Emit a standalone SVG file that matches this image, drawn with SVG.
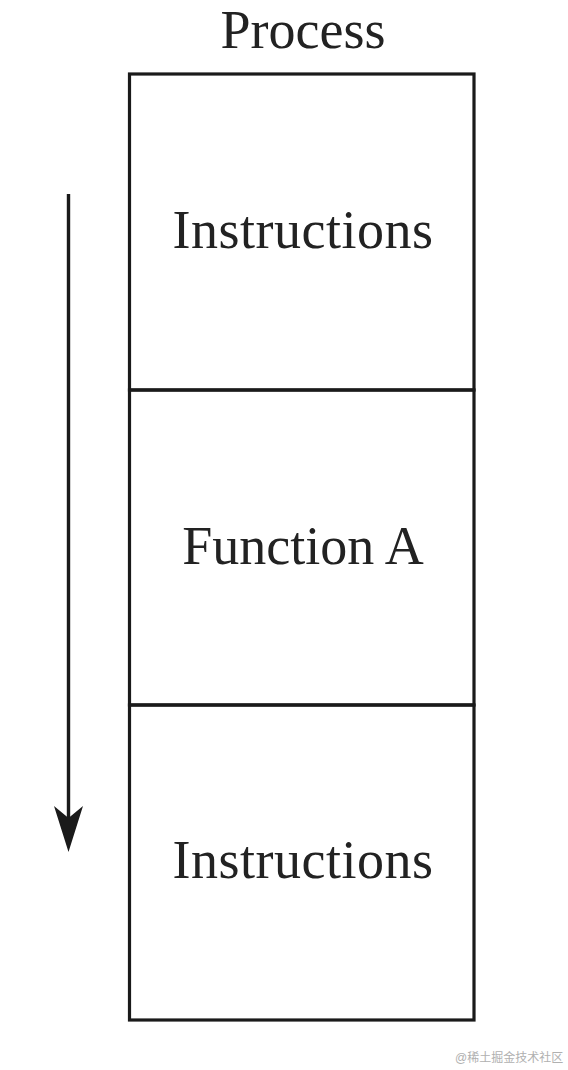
<svg xmlns="http://www.w3.org/2000/svg" width="568" height="1070" viewBox="0 0 568 1070">
<style>
.box{fill:none;stroke:#1a1a1a;stroke-width:3.2}
.lbl{font-family:"Liberation Serif","Times New Roman",serif;font-size:54px;fill:#222;text-anchor:middle}
.sp{letter-spacing:0.5px}
.wm{font-family:"Liberation Sans","Noto Sans CJK SC",sans-serif;font-size:12px;fill:#b0b0b0}
</style>
<rect width="568" height="1070" fill="#fff"/>
<text class="lbl" x="303" y="48">Process</text>
<g id="instructions1">
<rect class="box" x="129.5" y="74" width="344.5" height="316"/>
<text class="lbl sp" x="303" y="248">Instructions</text>
</g>
<g id="functionA">
<rect class="box" x="129.5" y="390" width="344.5" height="315"/>
<text class="lbl" x="303" y="564">Function A</text>
</g>
<g id="instructions2">
<rect class="box" x="129.5" y="705" width="344.5" height="315"/>
<text class="lbl sp" x="303" y="878">Instructions</text>
</g>
<g id="connectors">
<line x1="68.5" y1="194" x2="68.5" y2="820" stroke="#1a1a1a" stroke-width="3.4"/>
<polygon points="68.5,852 54,806 68.5,818 83,806" fill="#1a1a1a"/>
</g>
<text class="wm" x="455" y="1062">@稀土掘金技术社区</text>
</svg>
